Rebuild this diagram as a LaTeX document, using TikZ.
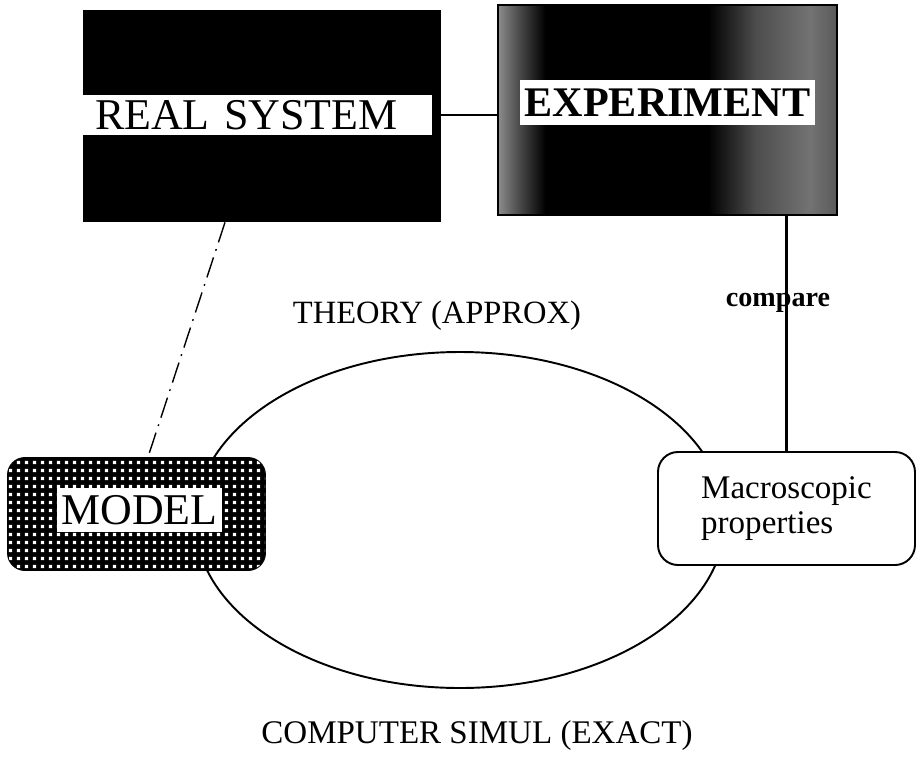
\documentclass[tikz,border=0pt]{standalone}
\usepackage{fontspec}
\setmainfont{Liberation Serif}
\usetikzlibrary{calc,patterns}
\def\pxu{0.02cm}
\pgfdeclarepatternformonly{modelgrid}{\pgfpointorigin}{\pgfpoint{4.6pt}{4.6pt}}{\pgfpoint{4.6pt}{4.6pt}}{\pgfpathrectangle{\pgfpoint{0.6pt}{0.6pt}}{\pgfpoint{2pt}{2pt}}\pgfusepath{fill}}
\pgfdeclarehorizontalshading{exptshade}{100bp}{color(0bp)=(black!45); color(25bp)=(black!45); color(28bp)=(black!70); color(32bp)=(black); color(56bp)=(black); color(63bp)=(black!70); color(71bp)=(black!55); color(75bp)=(black!65); color(100bp)=(black!65)}

\begin{document}
\begin{tikzpicture}[x=\pxu, y=-\pxu]
		%%%%% START %%%%%
		\useasboundingbox (0, 0) rectangle (921, 762);
		
		\draw[line width=1.1pt] (460, 520) ellipse [x radius=265, y radius=168];
		
		\node[fill=black, inner sep=0, minimum width=358*\pxu, minimum height=212*\pxu] (realsys) at (262, 116) {};
		\node[fill=white, inner sep=0, inner xsep=12*\pxu, text width=325*\pxu, minimum height=40*\pxu, align=left, font=\fontsize{25pt}{30pt}\selectfont] (realtext) at (257.5, 115) {REAL SYSTEM};
		
		\node[draw, line width=1.1pt, inner sep=0, minimum width=339*\pxu, minimum height=210*\pxu, shading=exptshade] (experiment) at (667.5, 110) {};
		\node[fill=white, inner sep=0, minimum width=295*\pxu, minimum height=45*\pxu, font=\fontsize{24pt}{29pt}\selectfont\bfseries] (expttext) at (667.5, 102.5) {EXPERIMENT};
		
		\node[draw, line width=1.1pt, rounded corners=17*\pxu, fill=black, postaction={pattern=modelgrid, pattern color=white}, inner sep=0, minimum width=257*\pxu, minimum height=112*\pxu] (model) at (136.5, 514) {};
		\node[fill=white, inner sep=0, minimum width=165*\pxu, minimum height=44*\pxu, font=\fontsize{25pt}{30pt}\selectfont] (modeltext) at (139.5, 510) {MODEL};
		
		\node[draw, fill=white, line width=1.1pt, rounded corners=20*\pxu, inner sep=0, minimum width=257*\pxu, minimum height=113*\pxu, align=left, font=\fontsize{18.8pt}{19.5pt}\selectfont] (macro) at (786.5, 508.5) {Macroscopic\\properties};
		
		\draw[line width=1.1pt] (realtext.east) -- (realtext.east -| experiment.west);
		\draw[line width=1.7pt] (macro.north |- experiment.south) -- (macro.north);
		\draw[line width=0.8pt, dash pattern=on 12pt off 4pt on 1pt off 4pt] ($(realsys.south)+(-37, 0)$) -- ($(model.north)+(11.5, 0)$);
		
		\node[anchor=base, font=\fontsize{18.5pt}{22pt}\selectfont] (theory) at (437, 323) {THEORY (APPROX)};
		\node[anchor=base, font=\fontsize{16pt}{19pt}\selectfont\bfseries] (cmp) at (778, 306) {compare};
		\node[anchor=base, font=\fontsize{18.8pt}{22pt}\selectfont] (simul) at (477, 743) {COMPUTER SIMUL (EXACT)};
		
		%%%%% END %%%%%
\end{tikzpicture}
\end{document}
